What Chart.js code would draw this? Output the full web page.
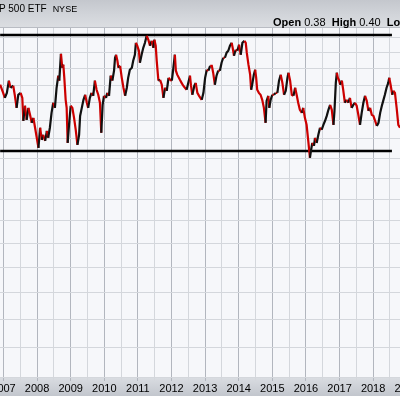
<!DOCTYPE html>
<html>
<head>
<meta charset="utf-8">
<script src="https://cdn.jsdelivr.net/npm/chart.js@4.4.1/dist/chart.umd.min.js"></script>
<style>
body{margin:0;background:#fff;}
#wrap{position:relative;width:400px;height:396px;overflow:hidden;}
#title{position:absolute;left:-1px;top:3px;font:10px "Liberation Sans",Arial,sans-serif;color:#000;white-space:nowrap;}
#title .ex{font-size:9px;margin-left:6px;}
#quote{position:absolute;left:273px;top:16px;font:11px "Liberation Sans",Arial,sans-serif;color:#000;white-space:nowrap;}
#quote b{font-weight:bold;}
</style>
</head>
<body>
<div id="wrap">
<canvas id="myChart" width="400" height="396"></canvas>
<div id="title">P 500 ETF<span class="ex">NYSE</span></div>
<div id="quote"><b>Open</b> 0.38 &nbsp;<b>High</b> 0.40 &nbsp;<b>Low</b> 0.37</div>
</div>
<script>
// price line (decimal years)
let years=[2006.90,2006.99,2007.04,2007.10,2007.16,2007.21,2007.29,2007.34,2007.39,2007.44,2007.51,2007.56,2007.59,2007.64,2007.69,2007.74,2007.79,2007.84,2007.89,2007.94,2007.99,2008.04,2008.09,2008.14,2008.18,2008.24,2008.29,2008.33,2008.38,2008.43,2008.48,2008.53,2008.58,2008.63,2008.66,2008.71,2008.75,2008.78,2008.81,2008.85,2008.88,2008.91,2008.95,2009.00,2009.05,2009.10,2009.15,2009.20,2009.25,2009.28,2009.33,2009.38,2009.43,2009.48,2009.52,2009.57,2009.62,2009.67,2009.72,2009.77,2009.82,2009.87,
  2009.91,2009.95,2009.99,2010.05,2010.09,2010.14,2010.19,2010.24,2010.29,2010.32,2010.35,2010.39,2010.42,2010.47,2010.52,2010.57,2010.62,2010.67,2010.71,2010.76,2010.82,2010.86,2010.91,2010.94,2010.98,2011.03,2011.06,2011.11,2011.16,2011.21,2011.26,2011.31,2011.36,2011.41,2011.46,2011.49,2011.53,2011.56,2011.61,2011.66,2011.71,2011.76,2011.81,2011.86,2011.91,2011.96,2012.01,2012.05,2012.10,2012.13,2012.17,2012.25,2012.30,2012.35,2012.40,2012.45,2012.50,2012.55,2012.58,2012.62,2012.68,2012.72,2012.77,2012.82,
  2012.90,2012.95,2013.00,2013.05,2013.10,2013.15,2013.20,2013.24,2013.29,2013.34,2013.39,2013.44,2013.49,2013.54,2013.59,2013.64,2013.69,2013.74,2013.79,2013.82,2013.86,2013.91,2013.96,2014.01,2014.06,2014.11,2014.17,2014.21,2014.24,2014.29,2014.34,2014.37,2014.40,2014.45,2014.49,2014.52,2014.55,2014.60,2014.65,2014.70,2014.75,2014.80,2014.83,2014.88,2014.91,2014.95,2015.00,2015.05,2015.10,2015.15,2015.20,2015.25,2015.30,2015.35,2015.40,2015.45,2015.48,2015.53,2015.58,2015.63,2015.68,2015.73,2015.77,2015.82,
  2015.88,2015.92,2015.97,2016.02,2016.07,2016.12,2016.15,2016.19,2016.24,2016.27,2016.32,2016.37,2016.42,2016.47,2016.52,2016.57,2016.62,2016.67,2016.72,2016.77,2016.82,2016.85,2016.89,2016.92,2016.95,2016.99,2017.02,2017.07,2017.11,2017.16,2017.21,2017.26,2017.31,2017.36,2017.41,2017.46,2017.51,2017.56,2017.61,2017.66,2017.71,2017.76,2017.81,2017.86,2017.91,2017.96,2018.01,2018.06,2018.11,2018.16,2018.21,2018.26,2018.30,2018.35,2018.40,2018.45,2018.48,2018.52,2018.57,2018.60,2018.65,2018.70,2018.75,2018.80];
let prices=[29.04,28.56,28.27,28.56,29.28,28.86,28.98,28.39,27.70,28.45,28.56,28.27,26.98,27.82,27.03,27.70,27.31,26.87,27.14,26.60,26.06,25.53,26.60,25.95,26.22,25.90,26.43,26.06,26.60,27.42,27.99,27.70,28.86,29.58,29.28,30.93,30.06,30.25,29.45,28.16,27.70,25.79,26.76,27.82,27.70,27.14,26.49,25.69,26.22,27.25,27.70,28.16,28.45,27.99,27.70,28.27,28.56,28.39,29.28,28.74,28.45,27.99,
  26.33,27.87,28.39,28.27,28.56,28.39,29.58,29.28,29.88,30.68,30.87,30.49,30.06,30.18,29.45,28.86,28.39,28.86,29.45,29.94,30.06,30.49,30.87,31.63,31.44,31.12,30.37,30.87,31.31,31.63,32.09,31.83,31.44,31.76,31.31,31.83,31.44,30.49,29.28,29.33,29.04,28.27,28.86,28.68,29.45,29.33,29.28,29.94,30.87,29.88,29.64,29.33,29.15,28.98,28.86,28.74,29.15,29.58,28.98,28.45,28.98,29.15,28.56,28.39,
  28.16,28.56,29.45,29.94,29.88,30.18,30.18,29.76,29.04,29.58,29.88,29.88,30.37,30.68,30.68,31.00,31.12,31.44,31.63,31.31,30.81,31.19,31.12,31.51,30.87,31.63,31.76,31.63,31.00,30.25,29.64,28.74,29.04,29.64,29.94,29.45,28.74,28.56,28.45,28.16,27.70,26.87,28.10,28.39,27.70,28.16,28.45,28.45,28.56,28.56,29.28,29.64,29.15,28.45,28.68,29.45,29.76,29.28,28.45,28.39,28.86,28.39,27.99,27.59,
  27.42,27.70,27.14,26.76,25.90,25.02,25.38,25.79,25.64,26.06,25.79,26.22,26.60,26.49,26.76,26.98,27.25,27.59,27.87,27.59,26.76,27.53,29.15,29.76,29.45,29.28,29.04,29.28,28.74,27.99,28.16,27.99,28.27,27.70,27.87,27.99,27.82,27.31,26.76,27.42,27.99,28.39,28.10,27.53,27.70,27.31,27.25,26.98,26.70,26.87,27.42,27.82,28.10,28.45,28.86,29.15,29.45,29.04,28.45,28.68,28.56,27.70,26.76,26.60];

// trading range lines
let rangeStart=2006.90, rangeEnd=2018.56;
let rangeTop=32.13, rangeBottom=25.37;

// axis
let xMin=2006.896, xMax=2018.80;
let yMin=16, yMax=32.6;
let yearTicks=[2007,2007.5,2008,2008.5,2009,2009.5,2010,2010.5,2011,2011.5,2012,2012.5,2013,2013.5,2014,2014.5,2015,2015.5,2016,2016.5,2017,2017.5,2018,2018.5,2019];
let priceGrid=[16,17,18,19,20,21,22,23,24,25,26,27,28,29,30,31,32];

let pts=years.map((x,i)=>({x:x,y:prices[i]}));

const bands={
  id:'bands',
  beforeDraw(chart){
    const {ctx,chartArea:a,width,height}=chart;
    ctx.save();
    let g=ctx.createLinearGradient(0,0,0,a.top);
    g.addColorStop(0,'#c4c7cd');
    g.addColorStop(0.55,'#d2d5da');
    g.addColorStop(1,'#dcdee2');
    ctx.fillStyle=g;
    ctx.fillRect(0,0,width,a.top);
    let g2=ctx.createLinearGradient(0,a.bottom,0,height);
    g2.addColorStop(0,'#dadde2');
    g2.addColorStop(1,'#c2c6cd');
    ctx.fillStyle=g2;
    ctx.fillRect(0,a.bottom,width,height-a.bottom);
    ctx.fillStyle='#f6f7fa';
    ctx.fillRect(a.left,a.top,a.right-a.left,a.bottom-a.top);
    ctx.strokeStyle='#b9bcc3';
    ctx.lineWidth=1;
    ctx.beginPath();
    ctx.moveTo(0,a.top-0.5);ctx.lineTo(width,a.top-0.5);
    ctx.stroke();
    ctx.restore();
  }
};

var ct=document.getElementById('myChart');
let chart=new Chart(ct,{
  type:'line',
  data:{
    datasets:[{
      label:'price',
      data:pts,
      borderWidth:2.2,
      pointRadius:0,
      tension:0,
      segment:{
        borderColor:c=>c.p1.parsed.y>c.p0.parsed.y?'#111111':'#cc0000'
      },
      borderColor:'#cc0000'
    },{
      label:'top',
      data:[{x:rangeStart,y:rangeTop},{x:rangeEnd,y:rangeTop}],
      borderColor:'#000',
      borderWidth:2.5,
      pointRadius:0
    },{
      label:'bottom',
      data:[{x:rangeStart,y:rangeBottom},{x:rangeEnd,y:rangeBottom}],
      borderColor:'#000',
      borderWidth:2.5,
      pointRadius:0
    }]
  },
  options:{
    responsive:false,
    animation:false,
    devicePixelRatio:1,
    layout:{padding:{top:28,left:0,right:0,bottom:0}},
    plugins:{legend:{display:false},tooltip:{enabled:false}},
    scales:{
      x:{
        type:'linear',
        min:xMin,max:xMax,
        afterBuildTicks:s=>{s.ticks=yearTicks.map(v=>({value:v}));},
        afterFit:s=>{s.height=19;s.paddingLeft=0;s.paddingRight=0;},
        border:{display:false},
        grid:{
          color:c=>(c.tick&&Number.isInteger(c.tick.value))?'#b2b6be':'#d4d7dc',
          tickLength:4
        },
        ticks:{
          autoSkip:false,maxRotation:0,padding:1,
          color:'#000',
          font:{family:'"Liberation Sans", Arial, sans-serif',size:11},
          callback:v=>Number.isInteger(v)?String(v):''
        }
      },
      y:{
        type:'logarithmic',
        position:'right',
        min:yMin,max:yMax,
        afterBuildTicks:s=>{s.ticks=priceGrid.map(v=>({value:v}));},
        afterFit:s=>{s.width=0;s.paddingTop=0;s.paddingBottom=0;},
        border:{display:false},
        grid:{color:'#d4d7dc',drawTicks:false},
        ticks:{display:false}
      }
    }
  },
  plugins:[bands]
});
</script>
</body>
</html>
